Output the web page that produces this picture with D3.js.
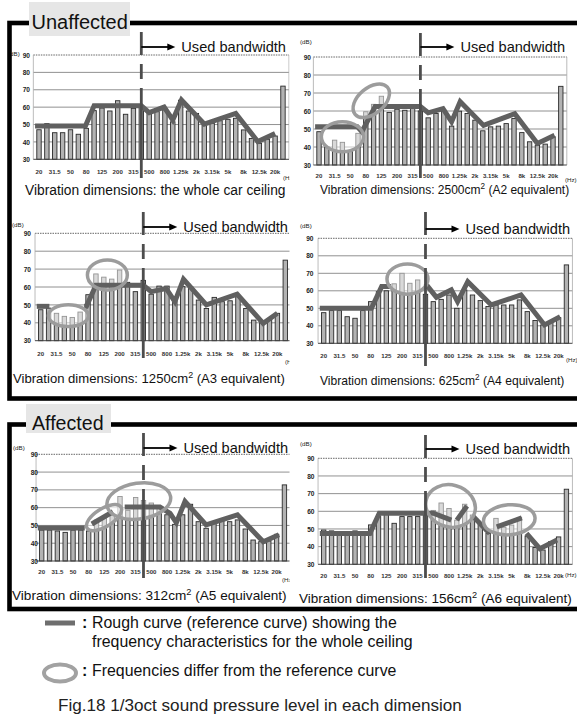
<!DOCTYPE html>
<html>
<head>
<meta charset="utf-8">
<script src="https://cdn.jsdelivr.net/npm/d3@7"></script>
<style>
  html, body { margin: 0; padding: 0; background: #fff; }
  svg { display: block; font-family: "Liberation Sans", Arial, Helvetica, sans-serif; }
</style>
</head>
<body>
<svg id="fig" width="577" height="724"></svg>
<script>
// 1/3-octave band centres (Hz); the last slot is the overall level
const bands = ["20","25","31.5","40","50","63","80","100","125","160","200","250","315","400",
  "500","630","800","1k","1.25k","1.6k","2k","2.5k","3.15k","4k","5k","6.3k","8k","10k",
  "12.5k","16k","20k","AP"];
const tickBands = ["20","31.5","50","80","125","200","315","500","800","1.25k","2k","3.15k",
  "5k","8k","12.5k","20k"];
const yTicks = [30, 40, 50, 60, 70, 80, 90];
const usedFromBand = 13; // 400 Hz

// Sound pressure level per band (dB)
const levelsCeiling = [47, 50.5, 45.3, 45.3, 47, 44.4, 47.8, 58, 59.5, 57.8, 63.7, 55.9, 59.3, 60,
  56.4, 57.4, 58.5, 51.6, 64, 57.8, 56.4, 49.7, 50.7, 52.2, 53, 53.6, 46.9, 42, 39.2, 41.5, 43.4, 72.1];
const levelsA2 = [48.5, 40, 43.8, 42.6, 37.5, 47.6, 59.6, 63.7, 68.2, 59.2, 61, 60.4, 63.2, 60,
  56.2, 58.6, 60.4, 51.6, 59.9, 58.6, 54.9, 49, 51.2, 51.6, 53, 55.8, 48, 42.9, 41, 41.6, 45.7, 73.7];
const levelsA3 = [47.3, 48.2, 45.3, 43.6, 43, 46, 55.7, 67.3, 65.5, 64.4, 69.5, 62.6, 57.4, 63.7,
  56, 60.5, 60.5, 52.7, 60.2, 60, 52.7, 48, 54.2, 51.8, 52.3, 54.6, 48, 41.5, 40.6, 41.5, 45.3, 75];
const levelsA4 = [47.5, 48.7, 48.7, 45.2, 44.3, 48.7, 53.8, 59.5, 60, 64, 70, 64.3, 66.2, 58,
  53.8, 55.1, 57.6, 50, 60.5, 57.6, 54.4, 51, 51.9, 51.9, 51.9, 54.8, 48.1, 43, 40.5, 42.4, 44.7, 74.8];
const levelsA5 = [47.4, 47.4, 46.9, 46.1, 47.4, 47.4, 46.9, 53, 54, 56, 66.3, 58.5, 65.7, 64,
  62.6, 60, 56, 50.6, 56, 61.9, 52.1, 48.4, 51.2, 53.1, 52.1, 53.1, 48, 41.8, 40.9, 41.3, 45, 72.8];
const levelsA6 = [49.4, 48.9, 47.5, 47.5, 48.9, 48.5, 52.3, 57, 58.9, 53.2, 57, 57, 57, 57.9,
  60.5, 64.7, 61.6, 55, 64, 57.9, 52.5, 47.5, 56, 51, 52.2, 56.5, 46, 39.5, 38.1, 42.8, 45.5, 72.5];

// Rough reference curve, as segments of [band index, dB]
const curveCeiling = [[[-0.5,49.2],[5.9,49.2],[7,60.8],[13,60.8],[14,56.8],[15.9,60],[17,52.6],
  [18.1,64.1],[21,50.3],[25,56.4],[27.8,40.2],[30,44.9]]];
const curveA2 = [[[-0.5,51.3],[4.9,51.3],[5.5,48.5],[7.2,62.5],[13,62.5],[14,59],[15.9,61.3],
  [17,54],[18.1,65.2],[21.1,52],[25.1,58.5],[28,42],[30.2,46.5]]];
const curveA3 = [[[-0.5,49.2],[1.1,49.2]],[[5.5,49.2],[5.8,49.2],[7,61],[13,61],[14,57.4],
  [15.9,59.2],[17,51.8],[18.1,64.3],[21,50],[24.9,56],[28.2,39.7],[30,45.3]]];
const curveA4 = [[[-0.5,50],[6.1,50],[7.4,62.4],[8.6,62.4]],[[12.8,62.4],[13.3,62.4],[14.4,56.3],
  [16.3,60.5],[17.1,53.8],[18.4,65.2],[21.4,51.9],[25.2,57.6],[28.2,40.5],[30.2,45.2]]];
const curveA5 = [[[-0.5,48.6],[5.5,48.6]],[[6.4,50.8],[9.1,57.7]],[[10.6,60.3],[15.1,60.3],
  [16.4,56.8],[17.2,51.5],[18.3,63.5],[21,50.3],[25,56],[28.3,40.8],[30.3,44.8]]];
const curveA6 = [[[-0.5,47.5],[5.9,47.5],[7.1,58.9],[14,58.9],[16.3,55]],[[17,55],[18.3,63]],
  [[19.1,57],[21.2,47.5]],[[22.1,51.2],[25.3,56.3]],[[25.9,47.5],[27.6,38.8],[29.8,43.7]]];

// Circled deviations: centre (band index, dB), half-spans (bands, dB), tilt (deg)
const ringsCeiling = [];
const ringsA2 = [{b:3.0, v:45.7, db:2.7, dv:8.3, tilt:0}, {b:6.7, v:65.7, db:2.7, dv:7.2, tilt:-40}];
const ringsA3 = [{b:3.5, v:44, db:2.53, dv:6.1, tilt:0}, {b:8.45, v:66.7, db:2.53, dv:8.4, tilt:0}];
const ringsA4 = [{b:10.7, v:66.7, db:2.62, dv:8.6, tilt:0}];
const ringsA5 = [{b:7.96, v:54.4, db:2.55, dv:5.1, tilt:-32}, {b:12.4, v:63.7, db:4.1, dv:10.1, tilt:-8}];
const ringsA6 = [{b:16.2, v:63, db:3.2, dv:11.9, tilt:15}, {b:23.7, v:55.2, db:3.3, dv:8.5, tilt:-5}];

const captions = [
  ["Vibration dimensions: the whole car ceiling"],
  ["Vibration dimensions: 2500cm", "2", " (A2 equivalent)"],
  ["Vibration dimensions: 1250cm", "2", " (A3 equivalent)"],
  ["Vibration dimensions: 625cm", "2", " (A4 equivalent)"],
  ["Vibration dimensions: 312cm", "2", " (A5 equivalent)"],
  ["Vibration dimensions: 156cm", "2", " (A6 equivalent)"]
];

const panels = [
  {levels: levelsCeiling, curve: curveCeiling, rings: ringsCeiling, caption: captions[0],
   x0: 39, step: 7.87, y90: 55, y30: 159.3, clip: true, ylx: 30, dB: [8, 56], hz: [283, 180],
   tickDy: 14.5, dash: [32, 178], arrowY: 47, cap: {x: 25, y: 195, size: 13.8}},
  {levels: levelsA2, curve: curveA2, rings: ringsA2, caption: captions[1],
   x0: 319, step: 7.8, y90: 57, y30: 165, clip: false, ylx: 311, dB: [300, 44], hz: [565, 182],
   tickDy: 12.5, dash: [33, 178], arrowY: 47, cap: {x: 320, y: 194, size: 12}},
  {levels: levelsA3, curve: curveA3, rings: ringsA3, caption: captions[2],
   x0: 40.7, step: 7.89, y90: 233.3, y30: 340.7, clip: true, ylx: 31, dB: [12, 227], hz: [285, 364],
   tickDy: 14.8, dash: [212, 358], arrowY: 227, cap: {x: 13, y: 383, size: 13.1}},
  {levels: levelsA4, curve: curveA4, rings: ringsA4, caption: captions[3],
   x0: 323.7, step: 7.83, y90: 238.3, y30: 343.3, clip: false, ylx: 313.5, dB: [300, 228], hz: [566, 362],
   tickDy: 14.2, dash: [212, 366], arrowY: 229, cap: {x: 320, y: 385, size: 12.1}},
  {levels: levelsA5, curve: curveA5, rings: ringsA5, caption: captions[4],
   x0: 41.7, step: 7.83, y90: 454.3, y30: 561, clip: true, ylx: 38, dB: [13, 450], hz: [282, 582],
   tickDy: 13, dash: [433, 578], arrowY: 448, cap: {x: 12, y: 600, size: 13.6}},
  {levels: levelsA6, curve: curveA6, rings: ringsA6, caption: captions[5],
   x0: 323.7, step: 7.83, y90: 458.3, y30: 564.3, clip: false, ylx: 314.5, dB: [300, 446], hz: [565, 577],
   tickDy: 13.2, dash: [435, 578], arrowY: 449, cap: {x: 299, y: 603, size: 13.5}}
];

const svg = d3.select("#fig");
svg.append("rect").attr("width", 577).attr("height", 724).attr("fill", "#fff");
svg.append("defs").append("clipPath").attr("id", "leftClip")
  .append("rect").attr("x", 0).attr("y", 0).attr("width", 289.5).attr("height", 724);

const CURVE = "#606060", RING = "#9c9c9c";

function drawPanel(p) {
  const root = svg.append("g");
  const g = root.append("g");
  if (p.clip) g.attr("clip-path", "url(#leftClip)");

  const n = bands.length;
  const x = d3.scaleBand().domain(bands)
    .range([p.x0 - p.step / 2, p.x0 + (n - 0.5) * p.step])
    .paddingInner(0.44).paddingOuter(0.22);
  const xi = d3.scaleLinear().domain([0, n - 1])
    .range([x(bands[0]) + x.bandwidth() / 2, x(bands[n - 1]) + x.bandwidth() / 2]);
  const y = d3.scaleLinear().domain([30, 90]).range([p.y30, p.y90]);
  const left = xi(-0.72), right = xi(n - 1) + 6;

  // grid
  g.selectAll("line.grid").data(yTicks.filter(v => v > 30 && v < 90)).join("line")
    .attr("x1", left).attr("x2", right).attr("y1", d => y(d)).attr("y2", d => y(d))
    .attr("stroke", "#858585").attr("stroke-width", 0.9);
  g.append("line").attr("x1", left).attr("x2", right).attr("y1", y(90)).attr("y2", y(90))
    .attr("stroke", "#555").attr("stroke-width", 0.9).attr("stroke-dasharray", "1.5,1");
  g.selectAll("line.frame").data([left, right]).join("line")
    .attr("x1", d => d).attr("x2", d => d).attr("y1", y(90)).attr("y2", y(30))
    .attr("stroke", "#aaa").attr("stroke-width", 0.8);

  // bars
  g.selectAll("rect.bar").data(p.levels.map((v, i) => ({band: bands[i], v}))).join("rect")
    .attr("x", d => x(d.band)).attr("y", d => y(d.v))
    .attr("width", x.bandwidth()).attr("height", d => y(30) - y(d.v))
    .attr("fill", "#b3b3b3").attr("stroke", "#2a2a2a").attr("stroke-width", 0.9);
  g.append("line").attr("x1", left).attr("x2", right).attr("y1", y(30)).attr("y2", y(30))
    .attr("stroke", "#444").attr("stroke-width", 1);

  // axes labels
  const ax = g.append("g").attr("transform", `translate(0,${p.y30 + p.tickDy})`)
    .call(d3.axisBottom(x).tickValues(tickBands).tickSize(0).tickPadding(0));
  ax.select(".domain").remove();
  ax.attr("font-family", null).attr("font-size", null);
  ax.selectAll("text").attr("dy", 0).attr("font-size", 6.1).attr("font-weight", "bold").attr("fill", "#333");

  const ay = g.append("g").attr("transform", `translate(${p.ylx},0)`)
    .call(d3.axisLeft(y).tickValues(yTicks).tickSize(0).tickPadding(0));
  ay.select(".domain").remove();
  ay.attr("font-family", null).attr("font-size", null);
  ay.selectAll("text").attr("font-size", 6.6).attr("font-weight", "bold").attr("fill", "#222");

  g.append("text").attr("x", p.dB[0]).attr("y", p.dB[1]).text("(dB)")
    .attr("font-size", 6.2).attr("fill", "#222");
  g.append("text").attr("x", p.hz[0]).attr("y", p.hz[1]).text("(Hz)")
    .attr("font-size", 6.2).attr("fill", "#222");

  // circled regions: soft white wash, then the curve, then the ring outline
  const ringGeom = p.rings.map(r => {
    const cx = xi(r.b), cy = y(r.v);
    return {cx, cy, rx: xi(r.b + r.db) - cx, ry: cy - y(r.v + r.dv), tilt: r.tilt};
  });
  g.selectAll("ellipse.wash").data(ringGeom).join("ellipse")
    .attr("cx", d => d.cx).attr("cy", d => d.cy).attr("rx", d => d.rx).attr("ry", d => d.ry)
    .attr("transform", d => `rotate(${d.tilt},${d.cx},${d.cy})`)
    .attr("fill", "#fff").attr("fill-opacity", 0.5);

  const line = d3.line().x(d => xi(d[0])).y(d => y(d[1]));
  g.selectAll("path.curve").data(p.curve).join("path")
    .attr("d", line).attr("fill", "none").attr("stroke", CURVE)
    .attr("stroke-width", 5).attr("stroke-linejoin", "miter").attr("stroke-miterlimit", 3);

  g.selectAll("ellipse.ring").data(ringGeom).join("ellipse")
    .attr("cx", d => d.cx).attr("cy", d => d.cy).attr("rx", d => d.rx).attr("ry", d => d.ry)
    .attr("transform", d => `rotate(${d.tilt},${d.cx},${d.cy})`)
    .attr("fill", "none").attr("stroke", RING).attr("stroke-width", 3.5);

  // used bandwidth marker
  const xd = xi(usedFromBand);
  g.append("line").attr("x1", xd).attr("x2", xd).attr("y1", p.dash[0]).attr("y2", p.dash[1])
    .attr("stroke", "#4d4d4d").attr("stroke-width", 2.8).attr("stroke-dasharray", "23,9,15,9,200");
  g.append("line").attr("x1", xd).attr("x2", xd + 27).attr("y1", p.arrowY).attr("y2", p.arrowY)
    .attr("stroke", "#000").attr("stroke-width", 1.8);
  g.append("path")
    .attr("d", `M${xd + 34},${p.arrowY} L${xd + 26},${p.arrowY - 3.5} L${xd + 26},${p.arrowY + 3.5} Z`)
    .attr("fill", "#000");
  g.append("text").attr("x", xd + 40).attr("y", p.arrowY + 5).text("Used bandwidth")
    .attr("font-size", 14.6).attr("fill", "#111");

  // caption (with superscript area unit)
  const fs = p.cap.size;
  const t = root.append("text").attr("x", p.cap.x).attr("y", p.cap.y)
    .attr("font-size", fs).attr("fill", "#111");
  t.append("tspan").text(p.caption[0]);
  if (p.caption.length > 1) {
    const lift = fs * 0.4;
    t.append("tspan").text(p.caption[1]).attr("dy", -lift).attr("font-size", fs * 0.68);
    t.append("tspan").text(p.caption[2]).attr("dy", lift).attr("font-size", fs);
  }
}

panels.forEach(drawPanel);

// group frames
function drawGroup(top, bottom, label, lx0, lx1, ly0, ly1, tx, ty, fs) {
  svg.append("rect").attr("x", 9.5).attr("y", top).attr("width", 600).attr("height", bottom - top)
    .attr("fill", "none").attr("stroke", "#000").attr("stroke-width", 4.6);
  svg.append("rect").attr("x", lx0).attr("y", ly0).attr("width", lx1 - lx0).attr("height", ly1 - ly0)
    .attr("fill", "#e6e6e6");
  svg.append("text").attr("x", tx).attr("y", ty).text(label).attr("font-size", fs).attr("fill", "#111");
}
drawGroup(23, 398.5, "Unaffected", 29, 130, 2, 36, 31.5, 28.5, 20);
drawGroup(424.5, 609, "Affected", 26, 111, 404, 433, 32, 430, 19.6);

// legend
const lg = svg.append("g").attr("fill", "#111");
lg.append("line").attr("x1", 45).attr("x2", 75).attr("y1", 623).attr("y2", 623)
  .attr("stroke", "#6e6e6e").attr("stroke-width", 5);
lg.append("ellipse").attr("cx", 60).attr("cy", 673).attr("rx", 16).attr("ry", 8.5)
  .attr("fill", "none").attr("stroke", "#a2a2a2").attr("stroke-width", 4);
[[628, ":"], [676, ":"]].forEach(([yy, s]) =>
  lg.append("text").attr("x", 82).attr("y", yy).text(s).attr("font-size", 16).attr("font-weight", "bold"));
lg.append("text").attr("x", 92).attr("y", 628).attr("font-size", 15.9)
  .text("Rough curve (reference curve) showing the");
lg.append("text").attr("x", 92).attr("y", 647).attr("font-size", 15.9)
  .text("frequency characteristics for the whole ceiling");
lg.append("text").attr("x", 92).attr("y", 676).attr("font-size", 15.9)
  .text("Frequencies differ from the reference curve");
lg.append("text").attr("x", 58).attr("y", 711).attr("font-size", 17.1).attr("fill", "#222")
  .text("Fig.18 1/3oct sound pressure level in each dimension");
</script>
</body>
</html>
